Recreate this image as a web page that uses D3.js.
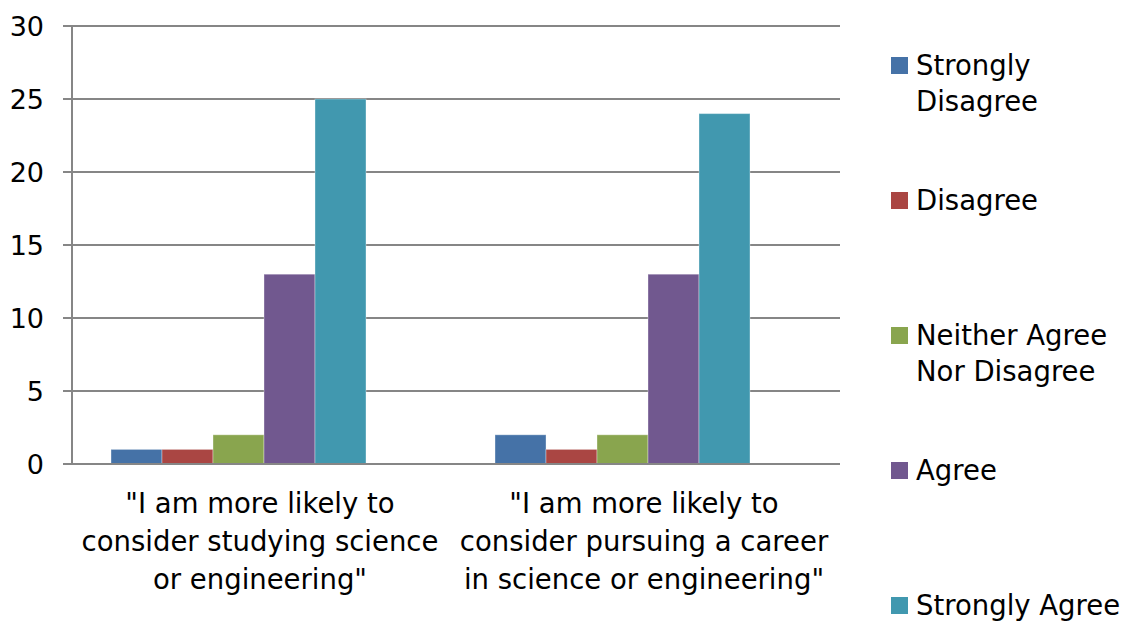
<!DOCTYPE html>
<html><head><meta charset="utf-8">
<script src="https://cdn.jsdelivr.net/npm/d3@7"></script>
<style>body{margin:0;background:#fff}svg{display:block}text{font-family:"DejaVu Sans",sans-serif;fill:#000}</style>
</head><body><svg id="c" width="1134" height="624"></svg>
<script>
const categories = [
  ['"I am more likely to', 'consider studying science', 'or engineering"'],
  ['"I am more likely to', 'consider pursuing a career', 'in science or engineering"']
];
const seriesNames = ["Strongly Disagree","Disagree","Neither Agree Nor Disagree","Agree","Strongly Agree"];
const legendLines = [["Strongly","Disagree"],["Disagree"],["Neither Agree","Nor Disagree"],["Agree"],["Strongly Agree"]];
const colors = ["#4572A7","#AA4643","#89A54E","#71588F","#4198AF"];
const values = [
  [1, 1, 2, 13, 25],
  [2, 1, 2, 13, 24]
];
const yTicks = [0,5,10,15,20,25,30];

const svg = d3.select("#c");
const L = 72, R = 840, T = 26, B = 464;
const x0 = d3.scaleBand().domain(d3.range(categories.length)).range([L, R]);
const x1 = d3.scaleBand().domain([...seriesNames, "_gap"]).range([0, x0.bandwidth()]).paddingOuter(0.765).paddingInner(0);
const y = d3.scaleLinear().domain([0, 30]).range([B, T]);

svg.append("g").selectAll("line").data(yTicks).join("line")
  .attr("x1", L - 9).attr("x2", R).attr("y1", d => y(d)).attr("y2", d => y(d))
  .attr("stroke", "#868686").attr("stroke-width", 2);
svg.append("line").attr("x1", L).attr("x2", L).attr("y1", T).attr("y2", B)
  .attr("stroke", "#868686").attr("stroke-width", 2);

svg.append("g").selectAll("text").data(yTicks).join("text")
  .attr("x", 44).attr("y", d => y(d)).attr("dy", "0.36em")
  .attr("text-anchor", "end").style("font-size", "27px").text(d => d);

const g = svg.append("g").selectAll("g").data(values).join("g")
  .attr("transform", (d, i) => `translate(${x0(i)},0)`);
g.selectAll("rect").data(d => d.map((v, j) => ({v, j}))).join("rect")
  .attr("x", d => x1(seriesNames[d.j])).attr("width", x1.bandwidth())
  .attr("y", d => y(d.v)).attr("height", d => y(0) - y(d.v))
  .attr("fill", d => colors[d.j]).attr("stroke", "#ffffff").attr("stroke-opacity", 0.35).attr("stroke-width", 1);

svg.append("line").attr("x1", L - 9).attr("x2", R).attr("y1", y(0)).attr("y2", y(0))
  .attr("stroke", "#868686").attr("stroke-width", 2);

categories.forEach((lines, i) => {
  const cx = x0(i) + x0.bandwidth() / 2 - 4;
  const t = svg.append("text").attr("text-anchor", "middle").style("font-size", "27.5px");
  lines.forEach((ln, k) => t.append("tspan").attr("x", cx).attr("y", 503 + k * 38).attr("dy", "0.36em").text(ln));
});

const legY = [65, 200, 335, 470, 605];
legendLines.forEach((lines, i) => {
  svg.append("rect").attr("x", 891).attr("y", legY[i] - 8).attr("width", 17).attr("height", 17).attr("fill", colors[i]);
  const t = svg.append("text").style("font-size", "27.5px");
  lines.forEach((ln, k) => t.append("tspan").attr("x", 916).attr("y", legY[i] + k * 36).attr("dy", "0.36em").text(ln));
});
</script></body></html>
